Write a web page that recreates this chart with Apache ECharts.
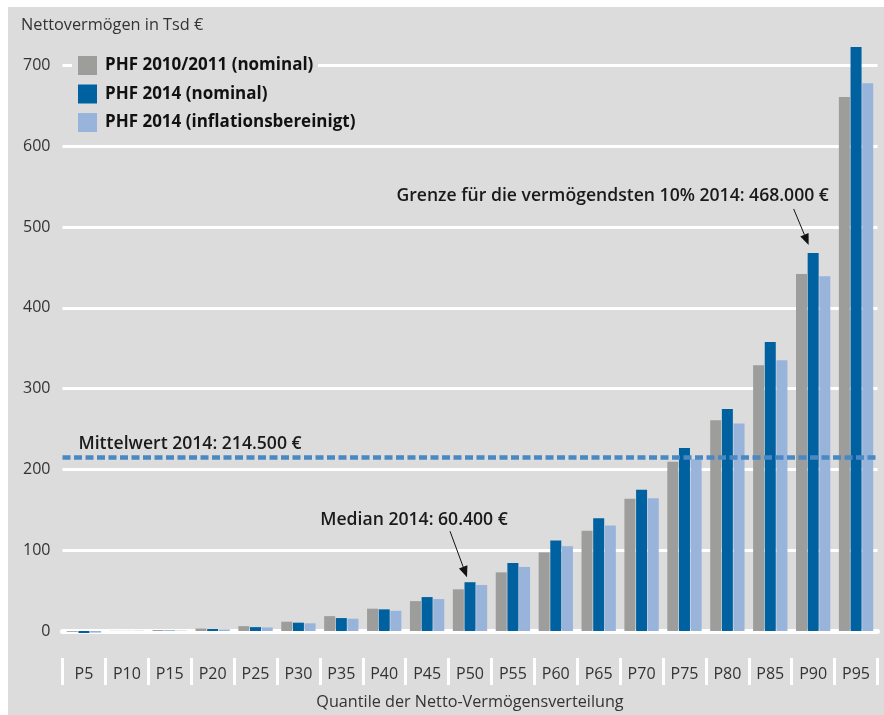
<!DOCTYPE html>
<html>
<head>
<meta charset="utf-8">
<script src="https://cdn.jsdelivr.net/npm/echarts@6/dist/echarts.min.js"></script>
<style>
html, body { margin: 0; padding: 0; background: #fff; }
#bg { position: absolute; left: 8px; top: 7px; width: 876px; height: 708px; background: #dcdcdc; }
#main { position: absolute; left: 0; top: 0; width: 884px; height: 715px; }
</style>
</head>
<body>
<div id="bg"></div>
<div id="main"></div>
<script>
// Quantile der Netto-Vermögensverteilung
const quantiles = ['P5', 'P10', 'P15', 'P20', 'P25', 'P30', 'P35', 'P40', 'P45', 'P50',
  'P55', 'P60', 'P65', 'P70', 'P75', 'P80', 'P85', 'P90', 'P95']
// Nettovermögen in Tsd €
const phf2010 = [-1, 0.2, 1.2, 3, 6, 11.5, 18.4, 27.6, 37, 51.6, 72.6, 97.3, 124, 163.6, 209.6, 261, 329, 442, 661]
const phf2014 = [-2.5, 0.1, 0.5, 2.5, 4.8, 10.3, 16, 26.8, 42, 60.4, 84.2, 112, 139.7, 174.7, 226.5, 274.7, 357.8, 468, 723]
const phf2014real = [-2, 0.3, 0.4, 2, 4.4, 9.5, 15.2, 25, 39.5, 57, 79.3, 105, 130.6, 164.4, 212.6, 257, 335, 439, 678]
const mittelwert2014 = 214.5
const seriesNames = ['PHF 2010/2011 (nominal)', 'PHF 2014 (nominal)', 'PHF 2014 (inflationsbereinigt)']
const colors = ['#9d9d9c', '#0061a1', '#98b4da']

const FONT = '"Open Sans", "Noto Sans", sans-serif'

let chart = echarts.init(document.getElementById('main'))

function bar(name, data, color) {
  return {
    name: name,
    type: 'bar',
    data: data,
    xAxisIndex: 0,
    barWidth: 11,
    barGap: '6%',
    clip: false,
    itemStyle: { color: color }
  }
}

let series = [
  bar(seriesNames[0], phf2010, colors[0]),
  bar(seriesNames[1], phf2014, colors[1]),
  bar(seriesNames[2], phf2014real, colors[2])
]
series[1].markLine = {
  silent: true,
  symbol: 'none',
  data: [{ yAxis: mittelwert2014 }],
  lineStyle: { color: '#4a88c2', width: 4.5, type: [8, 3.5] },
  label: {
    show: true,
    position: 'insideStartTop',
    distance: [16, 5],
    formatter: 'Mittelwert 2014: 214.500 €',
    color: '#1a1a1a',
    fontSize: 17.6,
    fontWeight: 600,
    fontFamily: FONT
  }
}

chart.setOption({
  animation: false,
  backgroundColor: 'transparent',
  title: {
    text: 'Nettovermögen in Tsd €',
    left: 16,
    top: 12,
    textStyle: { color: '#333', fontSize: 16.3, fontWeight: 'normal', fontFamily: FONT }
  },
  legend: {
    orient: 'vertical',
    left: 72,
    top: 52,
    padding: [4, 6, 4, 6],
    itemWidth: 19,
    itemHeight: 19,
    itemGap: 9.5,
    icon: 'rect',
    data: seriesNames,
    textStyle: { color: '#111', fontSize: 17, fontWeight: 'bold', fontFamily: FONT, padding: [0, 0, 0, 3] }
  },
  grid: { left: 62.5, right: 6.5, top: 65.5, bottom: 83 },
  xAxis: [
    {
      type: 'category',
      data: quantiles,
      axisLine: { show: true, lineStyle: { color: '#fff', width: 5 } },
      axisTick: { show: false },
      axisLabel: { show: false }
    },
    {
      type: 'category',
      data: quantiles,
      position: 'bottom',
      offset: 27,
      axisLine: { show: false },
      axisTick: { show: true, length: 27, lineStyle: { color: '#fff', width: 3 } },
      axisLabel: { color: '#333', fontSize: 16, margin: 8, fontFamily: FONT },
      name: 'Quantile der Netto-Vermögensverteilung',
      nameLocation: 'middle',
      nameGap: 36,
      nameTextStyle: { color: '#333', fontSize: 16.2, fontFamily: FONT }
    }
  ],
  yAxis: {
    type: 'value',
    min: 0,
    max: 700,
    interval: 100,
    axisLine: { show: false },
    axisTick: { show: false },
    axisLabel: { color: '#333', fontSize: 16, margin: 12, fontFamily: FONT },
    splitLine: { lineStyle: { color: '#fff', width: 3 } }
  },
  series: series
})

// annotations with arrows pointing at the blue (PHF 2014 nominal) bars
function annotation(label, idx, textDx, textDy, startDx, startDy, tipDx, tipDy) {
  let p = chart.convertToPixel({ seriesIndex: 1 }, [idx, phf2014[idx]])
  let tip = [p[0] + tipDx, p[1] + tipDy]
  let start = [tip[0] + startDx, tip[1] + startDy]
  let ang = Math.atan2(tip[1] - start[1], tip[0] - start[0])
  let headLen = 11, headHalf = 4.5
  let bx = tip[0] - headLen * Math.cos(ang), by = tip[1] - headLen * Math.sin(ang)
  let nx = -Math.sin(ang) * headHalf, ny = Math.cos(ang) * headHalf
  return [
    {
      type: 'text',
      x: tip[0] + textDx,
      y: tip[1] + textDy,
      style: {
        text: label, align: 'center', verticalAlign: 'middle',
        fill: '#1a1a1a', fontSize: 17.6, fontWeight: 600, fontFamily: FONT
      }
    },
    {
      type: 'line',
      shape: { x1: start[0], y1: start[1], x2: bx, y2: by },
      style: { stroke: '#111', lineWidth: 1 }
    },
    {
      type: 'polygon',
      shape: { points: [tip, [bx + nx, by + ny], [bx - nx, by - ny]] },
      style: { fill: '#111' }
    }
  ]
}

chart.setOption({
  graphic: [].concat(
    // gap in the 700 gridline behind the first legend entry
    [{ type: 'rect', z: 1, shape: { x: 72, y: 62, width: 246, height: 8 }, style: { fill: '#dcdcdc' } }],
    annotation('Median 2014: 60.400 €', quantiles.indexOf('P50'), -53, -57, -17, -46, -3, -5),
    annotation('Grenze für die vermögendsten 10% 2014: 468.000 €', quantiles.indexOf('P90'), -196, -49, -15, -36, -4.5, -8)
  )
})

window.onresize = function () {
  chart.resize()
}
</script>
</body>
</html>
